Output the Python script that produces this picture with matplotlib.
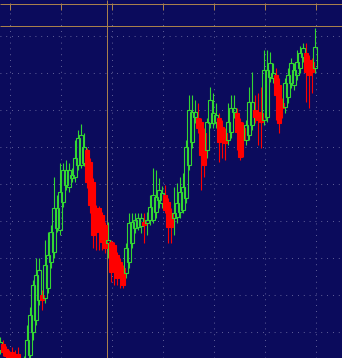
import matplotlib
matplotlib.use("Agg")
import matplotlib.pyplot as plt
import numpy as np

# Candle data (price in chart units, index = bar number)
opens = [8, 14, 9, 5, 6, 4, 4, -5, -14,
         -4, 3, 26, 38, 58, 63, 60, 70, 96, 106, 130, 128, 156, 173, 171, 180, 181, 193, 193, 195,
         208, 196, 176, 150, 150, 143, 133, 115, 116, 113, 103, 96, 90, 85, 96, 115, 130, 131, 132,
         136, 135, 138, 138, 146, 158, 155, 163, 156, 145, 140, 141, 146, 148, 160, 193, 216, 241,
         240, 236, 225, 208, 235, 235, 236, 240, 231, 225, 218, 226, 246, 245, 236, 230, 218, 223,
         233, 248, 246, 245, 238, 241, 281, 280, 283, 273, 255, 251, 261, 275, 273, 283, 290, 301,
         305, 298, 296, 290]
highs = [21, 18, 12, 8, 11, 8, 11, -2, 2,
         33, 51, 78, 100, 100, 68, 118, 126, 133, 181, 163, 195, 195, 198, 195, 190, 218, 228, 234, 225,
         210, 200, 180, 153, 152, 146, 136, 136, 118, 116, 106, 100, 93, 115, 145, 145, 145, 145, 145,
         145, 146, 163, 190, 188, 180, 172, 173, 160, 150, 171, 175, 181, 185, 218, 263, 263, 258,
         255, 240, 230, 240, 271, 265, 255, 245, 238, 230, 255, 263, 263, 250, 240, 236, 238, 271,
         286, 263, 265, 271, 308, 308, 306, 295, 290, 280, 260, 280, 290, 300, 295, 308, 312, 315,
         315, 303, 300, 330]
lows = [4, 2, -3, -6, -5, -8, -10, -15, -16,
        -7, -2, 18, 33, 53, 48, 55, 65, 90, 100, 126, 123, 151, 168, 166, 176, 176, 188, 190, 192,
        170, 145, 110, 108, 108, 108, 105, 100, 76, 73, 73, 70, 70, 80, 90, 110, 125, 128, 125,
        115, 123, 133, 135, 140, 150, 150, 145, 115, 115, 123, 135, 140, 145, 155, 188, 210, 235,
        225, 168, 181, 200, 230, 230, 230, 196, 200, 198, 213, 220, 240, 208, 198, 201, 213, 218,
        228, 235, 213, 210, 233, 236, 276, 275, 238, 225, 240, 245, 255, 270, 268, 278, 285, 296,
        256, 250, 265, 285]
closes = [16, 6, 2, -2, 0, -3, -5, -12, -4,
          18, 43, 73, 83, 88, 58, 93, 103, 126, 150, 150, 166, 188, 188, 188, 183, 200, 220, 223, 211,
          176, 153, 123, 126, 128, 116, 110, 118, 86, 93, 80, 81, 73, 110, 135, 136, 138, 140, 140,
          133, 138, 151, 163, 161, 168, 165, 148, 131, 131, 145, 155, 166, 171, 211, 248, 246, 246,
          230, 203, 193, 236, 258, 245, 243, 216, 218, 215, 236, 250, 250, 226, 201, 218, 233, 256,
          256, 241, 238, 236, 288, 288, 295, 285, 263, 235, 250, 275, 283, 295, 288, 296, 305, 310,
          286, 283, 286, 311]

BG = "#0b0b5c"
GREEN = "#33d633"
RED = "#ff0000"
GRIDC = "#7e7eae"
CROSS = "#a8804c"

fig = plt.figure(figsize=(3.42, 3.58), dpi=100, facecolor=BG)
ax = fig.add_axes([0, 0, 1, 1])
ax.set_facecolor(BG)
ax.set_xlim(0, 114)
ax.set_ylim(0, 358)
for s in ax.spines.values():
    s.set_visible(False)
ax.set_xticks([])
ax.set_yticks([])

# grid
grid_x = np.arange(3, 114, 17) + 1 / 6
grid_y = 322.5 - 37.1 * np.arange(9)
ax.hlines(grid_y, 0, 114, colors=GRIDC, linewidth=0.6, linestyles=(0, (1, 6)), zorder=1)
ax.vlines(grid_x, 0, 348, colors=GRIDC, linewidth=0.6, linestyles=(0, (1, 6)), zorder=1)

# top frame and ticks
ax.hlines([354.5], 0, 114, colors=CROSS, linewidth=0.72, zorder=2)
ax.vlines(grid_x, 348, 355, colors=CROSS, linewidth=0.72, zorder=2)

# crosshair
ax.vlines([35.5], 0, 358, colors=CROSS, linewidth=0.72, zorder=2)
ax.hlines([332.5], 0, 114, colors=CROSS, linewidth=0.72, zorder=2)

w = 1.3
lw = 0.8
for i, (o, h, l, c) in enumerate(zip(opens, highs, lows, closes)):
    top = max(o, c)
    bot = min(o, c)
    if c >= o:
        ax.vlines(i, top, h, colors=GREEN, linewidth=lw, zorder=3)
        ax.vlines(i, l, bot, colors=GREEN, linewidth=lw, zorder=3)
        ax.bar(i, top - bot, bottom=bot, width=w, facecolor="none",
               edgecolor=GREEN, linewidth=lw, zorder=4)
    else:
        ax.vlines(i, l, h, colors=RED, linewidth=lw, zorder=3)
        ax.bar(i, top - bot, bottom=bot, width=w, color=RED,
               edgecolor=RED, linewidth=lw, zorder=4)

fig.savefig("out.png", dpi=100, facecolor=BG)
